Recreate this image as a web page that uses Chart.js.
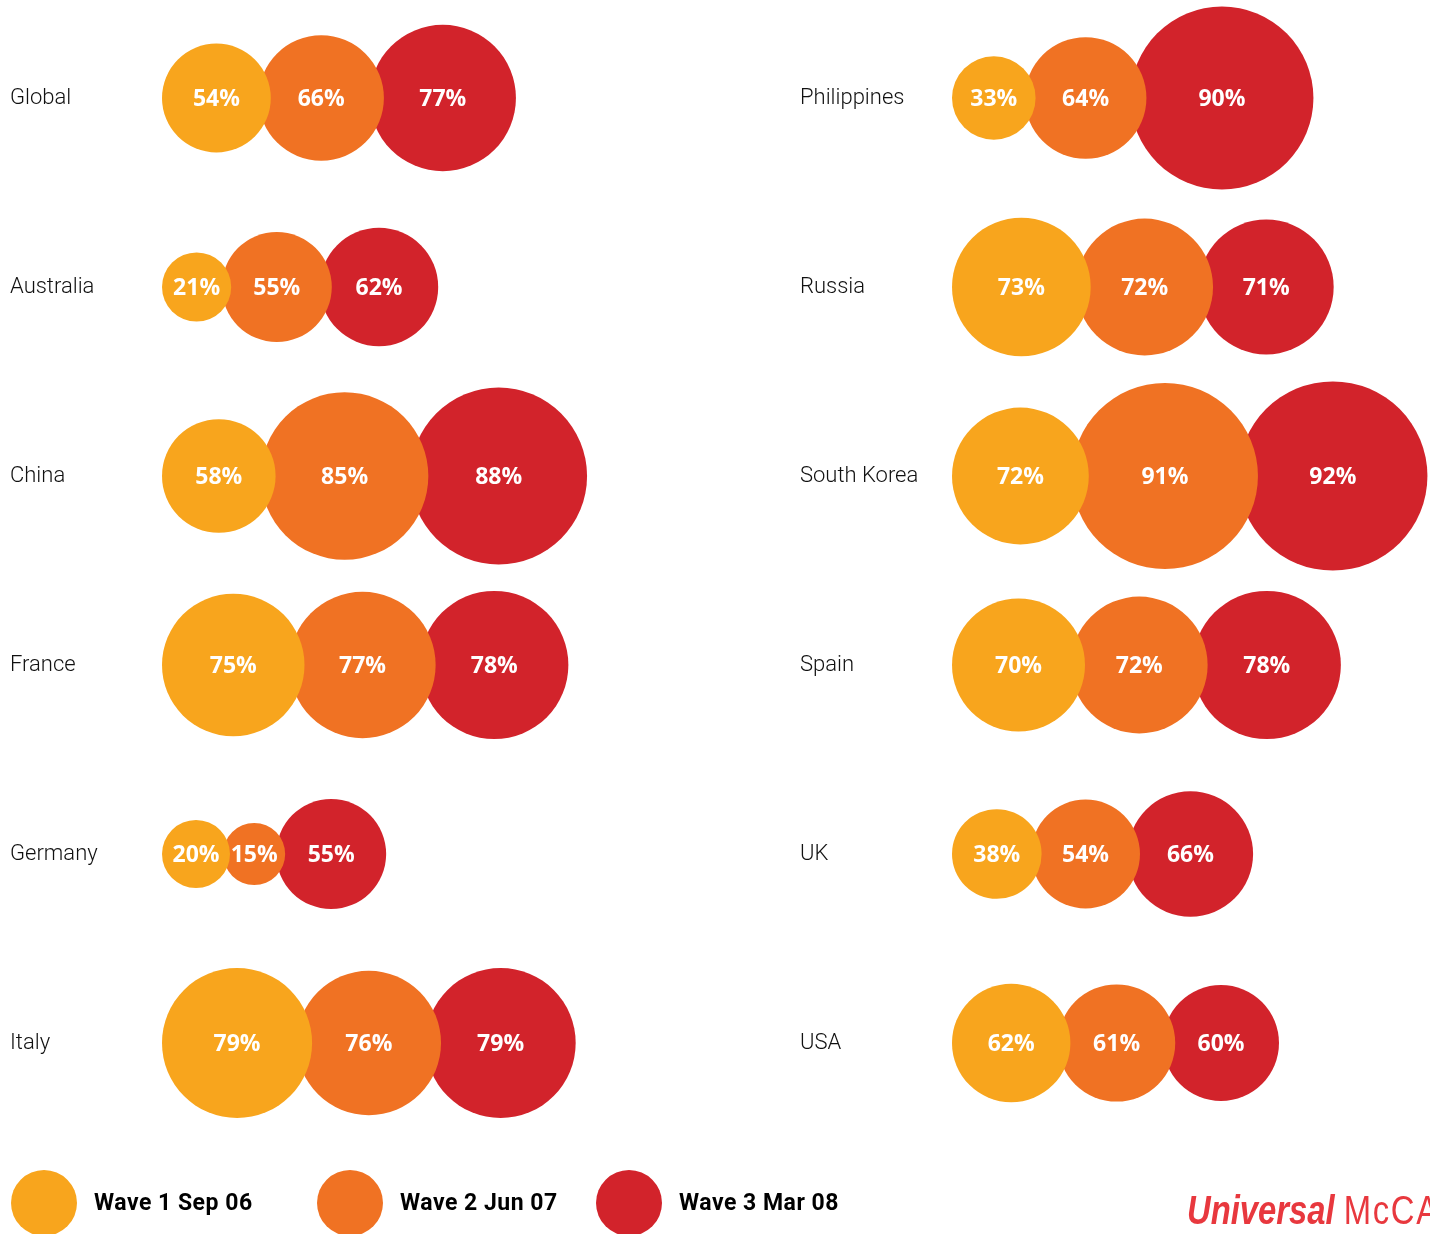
<!DOCTYPE html>
<html>
<head>
<meta charset="utf-8">
<script src="https://cdn.jsdelivr.net/npm/chart.js@4.4.1/dist/chart.umd.min.js"></script>
<style>
    html, body { margin: 0; padding: 0; background: #fff; overflow: hidden; }
    #wrap { position: relative; width: 1430px; height: 1234px; overflow: hidden; }
    #bubbles { position: absolute; left: 0; top: 0; }
    .legend-item { position: absolute; top: 1170px; height: 66px; }
    .legend-dot { position: absolute; left: 0; top: 0; width: 66px; height: 66px; border-radius: 50%; }
    .legend-text { position: absolute; left: 83px; top: 19px; white-space: nowrap;
        font: 700 23px Roboto, sans-serif; letter-spacing: 0.5px; color: #000; }
    #logo { position: absolute; left: 1187px; top: 1188px; white-space: nowrap; color: #e8383e;
        font: 40px "Liberation Sans", Arial, sans-serif; transform: scaleX(0.82); transform-origin: 0 0; }
    #logo b { font-style: italic; font-weight: 700; }
    #logo span { font-weight: 400; letter-spacing: 2px; }
</style>
</head>
<body>
<div id="wrap">
    <canvas id="bubbles" width="1430" height="1234"></canvas>
    <div id="legend"></div>
    <div id="logo"><b>Universal</b> <span>McCANN</span></div>
</div>
<script>
// Data
const leftCountries = ['Global', 'Australia', 'China', 'France', 'Germany', 'Italy'];
const rightCountries = ['Philippines', 'Russia', 'South Korea', 'Spain', 'UK', 'USA'];
const countries = leftCountries.concat(rightCountries);

const waveLabels = ['Wave 1 Sep 06', 'Wave 2 Jun 07', 'Wave 3 Mar 08'];
const wave1 = [54, 21, 58, 75, 20, 79, 33, 73, 72, 70, 38, 62];
const wave2 = [66, 55, 85, 77, 15, 76, 64, 72, 91, 72, 54, 61];
const wave3 = [77, 62, 88, 78, 55, 79, 90, 71, 92, 78, 66, 60];

const waveColors = ['#f8a51d', '#f07223', '#d2232b'];

// Layout
const panelStart = [162, 952];
const labelX = [10, 800];
const firstRow = 98;
const rowStep = 189;

// bubble radius grows with the value; small values keep a minimum size,
// the very high ones get a bit of extra size
function bubbleRadius(v) {
    return Math.max(22 + 0.6 * v, 0.95 * v + 0.6 * Math.max(0, v - 80));
}

function buildPoints() {
    const out = [[], [], []];
    countries.forEach((c, i) => {
        const panel = i < leftCountries.length ? 0 : 1;
        const row = i % leftCountries.length;
        const y = firstRow + row * rowStep;
        const vals = [wave1[i], wave2[i], wave3[i]];
        let x = panelStart[panel];
        let prevR = 0;
        vals.forEach((v, w) => {
            const r = bubbleRadius(v);
            if (w === 0) x += r;
            else x += 0.895 * (prevR + r); // neighbours overlap a little
            out[w].push({ x: x, y: y, r: r, v: v });
            prevR = r;
        });
    });
    return out;
}

const points = buildPoints();

// Country names at the left of each row
const rowLabels = {
    id: 'rowLabels',
    afterDraw(chart) {
        const ctx = chart.ctx;
        const yScale = chart.scales.y;
        ctx.save();
        ctx.font = '300 22px Roboto, sans-serif';
        ctx.fillStyle = '#111';
        ctx.textAlign = 'left';
        ctx.textBaseline = 'middle';
        countries.forEach((c, i) => {
            const panel = i < leftCountries.length ? 0 : 1;
            const row = i % leftCountries.length;
            ctx.fillText(c, labelX[panel], yScale.getPixelForValue(firstRow + row * rowStep));
        });
        ctx.restore();
    }
};

// Percent values inside the bubbles
const valueLabels = {
    id: 'valueLabels',
    afterDatasetsDraw(chart) {
        const ctx = chart.ctx;
        ctx.save();
        ctx.font = '700 23px "Open Sans", sans-serif';
        ctx.fillStyle = '#fff';
        ctx.textAlign = 'center';
        ctx.textBaseline = 'middle';
        chart.data.datasets.forEach((ds, d) => {
            chart.getDatasetMeta(d).data.forEach((el, j) => {
                ctx.fillText(ds.data[j].v + '%', el.x, el.y + 1);
            });
        });
        ctx.restore();
    }
};

const chart = new Chart(document.getElementById('bubbles').getContext('2d'), {
    type: 'bubble',
    data: {
        datasets: waveLabels.map((label, w) => ({
            label: label,
            data: points[w],
            backgroundColor: waveColors[w],
            borderWidth: 0,
            clip: false
        }))
    },
    options: {
        responsive: false,
        animation: false,
        events: [],
        layout: { padding: 0, autoPadding: false },
        scales: {
            x: { type: 'linear', min: 0, max: 1430, display: false },
            y: { type: 'linear', min: 0, max: 1234, reverse: true, display: false }
        },
        plugins: {
            legend: { display: false },
            tooltip: { enabled: false }
        }
    },
    plugins: [rowLabels, valueLabels]
});

// Legend built from the chart datasets
const legendLeft = [11, 317, 596];
const legendEl = document.getElementById('legend');
chart.data.datasets.forEach((ds, i) => {
    const item = document.createElement('div');
    item.className = 'legend-item';
    item.style.left = legendLeft[i] + 'px';
    item.innerHTML = '<div class="legend-dot" style="background:' + ds.backgroundColor + '"></div>' +
        '<div class="legend-text">' + ds.label + '</div>';
    legendEl.appendChild(item);
});
</script>
</body>
</html>
